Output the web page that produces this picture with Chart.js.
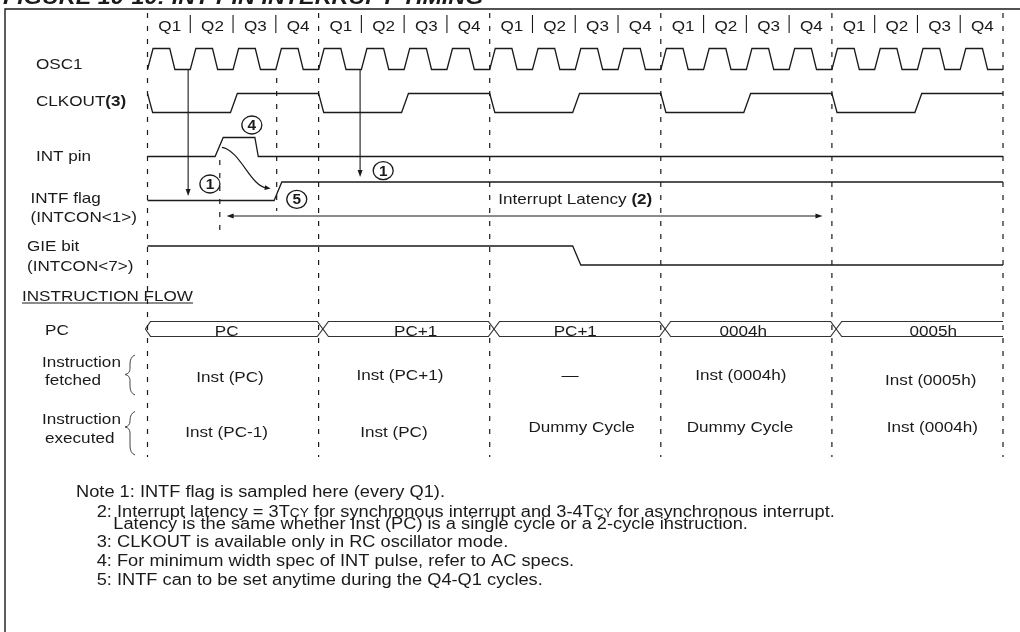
<!DOCTYPE html>
<html><head><meta charset="utf-8">
<script src="https://cdn.jsdelivr.net/npm/chart.js@4.4.1/dist/chart.umd.min.js"></script>
<style>html,body{margin:0;padding:0;background:#fff}canvas{display:block}</style>
</head><body>
<canvas id="c" width="1020" height="632"></canvas>
<script>
// ================= DATA (time in quarter cycles, Q1..Q4 per instruction cycle) =================
const quarterLabels = ['Q1', 'Q2', 'Q3', 'Q4'];
const cycleBoundaries = [0, 4, 8, 12, 16, 20];

// OSC1 vertices (time, level)
const osc1Times = [0,0.13,0.52,0.64, 1,1.13,1.52,1.64, 2,2.13,2.52,2.64, 3,3.13,3.52,3.64,
  4,4.13,4.52,4.64, 5,5.13,5.52,5.64, 6,6.13,6.52,6.64, 7,7.13,7.52,7.64,
  8,8.13,8.52,8.64, 9,9.13,9.52,9.64, 10,10.13,10.52,10.64, 11,11.13,11.52,11.64,
  12,12.13,12.52,12.64, 13,13.13,13.52,13.64, 14,14.13,14.52,14.64, 15,15.13,15.52,15.64,
  16,16.13,16.52,16.64, 17,17.13,17.52,17.64, 18,18.13,18.52,18.64, 19,19.13,19.52,19.64, 20];
const osc1Levels = [0,1,1,0, 0,1,1,0, 0,1,1,0, 0,1,1,0, 0,1,1,0, 0,1,1,0, 0,1,1,0, 0,1,1,0,
  0,1,1,0, 0,1,1,0, 0,1,1,0, 0,1,1,0, 0,1,1,0, 0,1,1,0, 0,1,1,0, 0,1,1,0,
  0,1,1,0, 0,1,1,0, 0,1,1,0, 0,1,1,0, 0];

const clkoutTimes  = [0,0.12,1.94,2.1,4,4.12,5.94,6.1,8,8.12,9.94,10.1,12,12.12,13.94,14.1,16,16.12,17.94,18.1,20];
const clkoutLevels = [1,0,0,1,1,0,0,1,1,0,0,1,1,0,0,1,1,0,0,1,1];

const intPinTimes  = [0, 1.58, 1.77, 2.51, 2.59, 20];
const intPinLevels = [0, 0, 1, 1, 0, 0];

const intfTimes  = [0, 2.96, 3.14, 20];
const intfLevels = [0, 0, 1, 1];

const gieTimes  = [0, 9.94, 10.13, 20];
const gieLevels = [1, 1, 0, 0];

const pcValues       = ['PC', 'PC+1', 'PC+1', '0004h', '0005h'];
const fetchedValues  = ['Inst (PC)', 'Inst (PC+1)', '\u2014', 'Inst (0004h)', 'Inst (0005h)'];
const executedValues = ['Inst (PC-1)', 'Inst (PC)', 'Dummy Cycle', 'Dummy Cycle', 'Inst (0004h)'];

const sampleTimes = [0.95, 4.97];           // INTF sampled (Note 1)
const latencyStart = 1.85, latencyEnd = 15.78;
const intEdgeMarker = 1.69, q4Marker = 3.02;

const notes = [
  [{t:'Note 1: INTF flag is sampled here (every Q1).'}],
  [{t:'2: Interrupt latency = 3T'},{t:'CY',s:1},{t:' for synchronous interrupt and 3-4T'},{t:'CY',s:1},{t:' for asynchronous interrupt.'}],
  [{t:'Latency is the same whether Inst (PC) is a single cycle or a 2-cycle instruction.'}],
  [{t:'3: CLKOUT is available only in RC oscillator mode.'}],
  [{t:'4: For minimum width spec of INT pulse, refer to AC specs.'}],
  [{t:'5: INTF can to be set anytime during the Q4-Q1 cycles.'}]
];

// ================= LAYOUT (pixels / time offsets) =================
const lanes = {
  osc1:   {hi: 48.5,  lo: 69.5},
  clkout: {hi: 93.5,  lo: 112.5},
  intPin: {hi: 137.5, lo: 156.5},
  intf:   {hi: 182,   lo: 200.5},
  gie:    {hi: 246,   lo: 265}
};
const bus = {top: 321.5, bot: 336.5, xOff: 0.1, xHalf: 0.13, startOff: -0.05, startTop: 0.12};
const dashTop = 13, dashBot = 457;
const FS = 15, NOTE_FS = 16, SX = 1.14, FONT = '"Liberation Sans", Arial, Helvetica, sans-serif';
const INK = '#1a1a1a';

const sampleTips = [196, 177];
const latencyY = 216;

const leftLabels = [
  {r:[{t:'OSC1'}], x:36, y:69},
  {r:[{t:'CLKOUT'},{t:'(3)',b:1}], x:36, y:105.5},
  {r:[{t:'INT pin'}], x:36, y:161},
  {r:[{t:'INTF flag'}], x:30.5, y:202.5},
  {r:[{t:'(INTCON<1>)'}], x:30.5, y:221.5},
  {r:[{t:'GIE bit'}], x:27, y:250.5},
  {r:[{t:'(INTCON<7>)'}], x:27, y:270.5},
  {r:[{t:'INSTRUCTION FLOW'}], x:22, y:300.5, u:1},
  {r:[{t:'PC'}], x:45, y:335},
  {r:[{t:'Instruction'}], x:42, y:366.5},
  {r:[{t:'fetched'}], x:45, y:384.5},
  {r:[{t:'Instruction'}], x:42, y:424},
  {r:[{t:'executed'}], x:45, y:442.5}
];
const pcTextT = [1.85, 6.27, 10.0, 13.93, 18.37];
const fetchedT = [1.93, 5.90, 9.88, 13.87, 18.31], fetchedY = [381.5, 380, 380, 380, 385];
const executedT = [1.85, 5.76, 10.15, 13.85, 18.35], executedY = [436.5, 436.5, 431.5, 431.5, 431.5];
const circles = [{n:'4', t:2.44, y:125}, {n:'1', t:1.46, y:184}, {n:'5', t:3.49, y:199.3}, {n:'1', t:5.51, y:170.7}];
const noteX = [76, 96.7, 113.3, 96.7, 96.7, 96.7];
const noteY = [497.3, 517.3, 529, 546.7, 566, 585];
const braces = [{y0:355, y1:395, ym:374.5}, {y0:411.5, y1:455, ym:427}];

// ================= BUILD DATASETS =================
function wave(times, levels, lane) {
  return times.map((t, i) => ({x: t, y: lane.lo - levels[i] * (lane.lo - lane.hi)}));
}
function line(data, extra) {
  return Object.assign({data, showLine: true, borderColor: INK, borderWidth: 1.3, pointRadius: 0,
    tension: 0, fill: false, spanGaps: false}, extra || {});
}
const datasets = [];
datasets.push(line(wave(osc1Times, osc1Levels, lanes.osc1)));
datasets.push(line(wave(clkoutTimes, clkoutLevels, lanes.clkout)));
datasets.push(line(wave(intPinTimes, intPinLevels, lanes.intPin)));
datasets.push(line(wave(intfTimes, intfLevels, lanes.intf)));
datasets.push(line(wave(gieTimes, gieLevels, lanes.gie)));

// cycle boundary dashed lines
const dashData = [];
cycleBoundaries.forEach(t => { dashData.push({x:t, y:dashTop}, {x:t, y:dashBot}, {x:t, y:null}); });
dashData.push({x:intEdgeMarker, y:160}, {x:intEdgeMarker, y:232}, {x:intEdgeMarker, y:null});
dashData.push({x:q4Marker, y:78}, {x:q4Marker, y:211});
datasets.push(line(dashData, {borderDash: [5, 8], borderWidth: 1.2}));

// quarter separators in label row
const sepData = [];
for (let c = 0; c < cycleBoundaries.length - 1; c++) {
  for (let q = 1; q < 4; q++) {
    const t = cycleBoundaries[c] + q;
    sepData.push({x:t, y:15}, {x:t, y:33}, {x:t, y:null});
  }
}
datasets.push(line(sepData, {borderWidth: 1.1}));

// sample arrows
sampleTimes.forEach((t, i) => datasets.push(line([{x:t, y:lanes.osc1.lo}, {x:t, y:sampleTips[i] - 5}], {borderWidth: 1.1})));
// latency line
datasets.push(line([{x:latencyStart + 0.1, y:latencyY}, {x:latencyEnd - 0.1, y:latencyY}], {borderWidth: 1.2}));

// PC bus
const mid = (bus.top + bus.bot) / 2;
const busA = [{x: bus.startOff, y: mid}, {x: bus.startOff + bus.startTop, y: bus.top}];
const busB = [{x: bus.startOff, y: mid}, {x: bus.startOff + bus.startTop, y: bus.bot}];
let aTop = true;
for (let i = 1; i < cycleBoundaries.length - 1; i++) {
  const c = cycleBoundaries[i] + bus.xOff;
  busA.push({x: c - bus.xHalf, y: aTop ? bus.top : bus.bot}, {x: c + bus.xHalf, y: aTop ? bus.bot : bus.top});
  busB.push({x: c - bus.xHalf, y: aTop ? bus.bot : bus.top}, {x: c + bus.xHalf, y: aTop ? bus.top : bus.bot});
  aTop = !aTop;
}
const tEnd = cycleBoundaries[cycleBoundaries.length - 1];
busA.push({x: tEnd, y: aTop ? bus.top : bus.bot});
busB.push({x: tEnd, y: aTop ? bus.bot : bus.top});
datasets.push(line(busA, {borderColor: '#333', borderWidth: 1.2}));
datasets.push(line(busB, {borderColor: '#333', borderWidth: 1.2}));

// ================= DRAWING HELPERS =================
function font(run, base) {
  const size = run.s ? base * 0.75 : base;
  return (run.b ? 'bold ' : '') + size + 'px ' + FONT;
}
function runsWidth(ctx, runs, base) {
  let w = 0;
  runs.forEach(r => { ctx.font = font(r, base); w += ctx.measureText(r.t).width; });
  return w * SX;
}
function drawRuns(ctx, runs, x, y, align, underline, base) {
  base = base || FS;
  const w = runsWidth(ctx, runs, base);
  let cx = align === 'center' ? x - w / 2 : x;
  const x0 = cx;
  ctx.fillStyle = INK;
  ctx.textBaseline = 'alphabetic';
  ctx.textAlign = 'left';
  runs.forEach(r => {
    ctx.font = font(r, base);
    ctx.save(); ctx.translate(cx, y); ctx.scale(SX, 1); ctx.fillText(r.t, 0, 0); ctx.restore();
    cx += ctx.measureText(r.t).width * SX;
  });
  if (underline) {
    ctx.strokeStyle = INK; ctx.lineWidth = 1.1;
    ctx.beginPath(); ctx.moveTo(x0, y + 2.5); ctx.lineTo(x0 + w, y + 2.5); ctx.stroke();
  }
}
function arrowHead(ctx, x, y, ang, len, wid) {
  ctx.save(); ctx.translate(x, y); ctx.rotate(ang);
  ctx.beginPath(); ctx.moveTo(0, 0); ctx.lineTo(-len, -wid / 2); ctx.lineTo(-len, wid / 2); ctx.closePath();
  ctx.fillStyle = INK; ctx.fill(); ctx.restore();
}

const diagramPlugin = {
  id: 'diagram',
  beforeDatasetsDraw(chart) {
    const ctx = chart.ctx;
    ctx.save();
    ctx.strokeStyle = INK; ctx.lineWidth = 1.4;
    ctx.beginPath(); ctx.moveTo(1030, 9); ctx.lineTo(5, 9); ctx.lineTo(5, 640); ctx.stroke();
    // title (cut off by the top edge)
    ctx.fillStyle = INK; ctx.font = 'italic bold 20.5px ' + FONT;
    ctx.textBaseline = 'alphabetic'; ctx.textAlign = 'left';
    ctx.save(); ctx.translate(3, 3.5); ctx.scale(SX, 1); ctx.fillText('FIGURE 10-10: INT PIN INTERRUPT TIMING', 0, 0); ctx.restore();
    ctx.restore();
  },
  afterDatasetsDraw(chart) {
    const ctx = chart.ctx, xs = chart.scales.x;
    const X = t => xs.getPixelForValue(t);
    ctx.save();
    // Q labels
    for (let c = 0; c < cycleBoundaries.length - 1; c++) {
      quarterLabels.forEach((q, i) => drawRuns(ctx, [{t:q}], X(cycleBoundaries[c] + i + 0.52), 30.5, 'center'));
    }
    leftLabels.forEach(l => drawRuns(ctx, l.r, l.x, l.y, 'left', l.u));
    pcValues.forEach((v, i) => drawRuns(ctx, [{t:v}], X(pcTextT[i]), 336, 'center'));
    fetchedValues.forEach((v, i) => drawRuns(ctx, [{t:v}], X(fetchedT[i]), fetchedY[i], 'center'));
    executedValues.forEach((v, i) => drawRuns(ctx, [{t:v}], X(executedT[i]), executedY[i], 'center'));
    drawRuns(ctx, [{t:'Interrupt Latency '}, {t:'(2)', b:1}], 498.3, 204, 'left');
    notes.forEach((n, i) => drawRuns(ctx, n, noteX[i], noteY[i], 'left', false, NOTE_FS));

    // circled numbers
    circles.forEach(c => {
      const cx = X(c.t);
      ctx.strokeStyle = INK; ctx.lineWidth = 1.3;
      ctx.beginPath(); ctx.ellipse(cx, c.y, 10, 9, 0, 0, Math.PI * 2); ctx.stroke();
      ctx.font = 'bold 14px ' + FONT; ctx.fillStyle = INK; ctx.textAlign = 'center'; ctx.textBaseline = 'middle';
      ctx.save(); ctx.translate(cx, c.y + 1); ctx.scale(1.1, 1); ctx.fillText(c.n, 0, 0); ctx.restore();
    });
    // sample arrowheads
    sampleTimes.forEach((t, i) => arrowHead(ctx, X(t), sampleTips[i], Math.PI / 2, 7, 5));
    // latency arrowheads
    arrowHead(ctx, X(latencyStart), latencyY, Math.PI, 7, 5);
    arrowHead(ctx, X(latencyEnd), latencyY, 0, 7, 5);
    // curved arrow from INT rising edge to INTF rising edge
    const p0 = [X(1.74), 147.3], p1 = [X(2.16), 150], p2 = [X(2.42), 187], p3 = [X(2.88), 188.5];
    ctx.strokeStyle = INK; ctx.lineWidth = 1.2;
    ctx.beginPath(); ctx.moveTo(p0[0], p0[1]); ctx.bezierCurveTo(p1[0], p1[1], p2[0], p2[1], p3[0] - 4, p3[1] - 0.5); ctx.stroke();
    arrowHead(ctx, p3[0], p3[1], 0.15, 6, 5);
    // braces
    braces.forEach(b => {
      const xr = 135, xm = 130, xl = 125;
      ctx.strokeStyle = '#444'; ctx.lineWidth = 1;
      ctx.beginPath();
      ctx.moveTo(xr, b.y0);
      ctx.quadraticCurveTo(xm, b.y0 + 2, xm, b.y0 + 9);
      ctx.lineTo(xm, b.ym - 6);
      ctx.quadraticCurveTo(xm, b.ym - 1, xl, b.ym);
      ctx.quadraticCurveTo(xm, b.ym + 1, xm, b.ym + 6);
      ctx.lineTo(xm, b.y1 - 9);
      ctx.quadraticCurveTo(xm, b.y1 - 2, xr, b.y1);
      ctx.stroke();
    });
    ctx.restore();
  }
};

new Chart(document.getElementById('c'), {
  type: 'scatter',
  data: {datasets},
  options: {
    responsive: false,
    animation: false,
    devicePixelRatio: 1,
    layout: {padding: 0},
    plugins: {legend: {display: false}, tooltip: {enabled: false}, title: {display: false}},
    scales: {
      x: {type: 'linear', display: false, min: -3.4483, max: 20.3974},
      y: {type: 'linear', display: false, min: 0, max: 632, reverse: true}
    },
    elements: {line: {borderCapStyle: 'butt', borderJoinStyle: 'miter'}}
  },
  plugins: [diagramPlugin]
});
</script>
</body></html>
